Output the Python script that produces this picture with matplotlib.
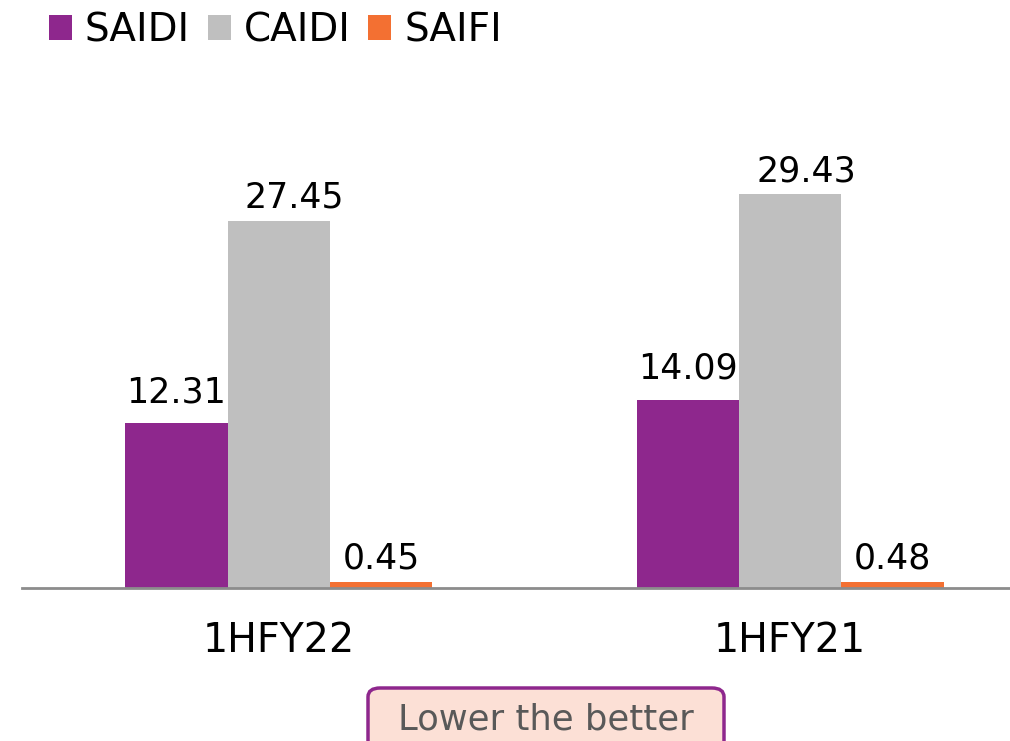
import matplotlib.pyplot as plt
from matplotlib.patches import FancyBboxPatch
import numpy as np

plt.rcParams['font.family'] = ['DejaVu Sans']

periods = ['1HFY22', '1HFY21']
series = ['SAIDI', 'CAIDI', 'SAIFI']
saidi = [12.31, 14.09]
caidi = [27.45, 29.43]
saifi = [0.45, 0.48]
colors = ['#8E278D', '#BFBFBF', '#F37032']
label_off = [(0, 15), (11.5, 9.4), (0, 9.4)]  # label offset from bar top, points

fig = plt.figure(figsize=(10.1, 7.41), dpi=100)
ax = fig.add_axes([22 / 1010, 1 - 588 / 741, 988 / 1010, 468 / 741])

x = np.arange(len(periods))
w = 0.2
for i, (name, vals) in enumerate(zip(series, [saidi, caidi, saifi])):
    bars = ax.bar(x + (i - 1) * w, vals, w, color=colors[i], label=name, zorder=2)
    for b, v in zip(bars, vals):
        ax.annotate(f'{v:.2f}', (b.get_x() + b.get_width() / 2, v),
                    xytext=label_off[i], textcoords='offset points',
                    ha='center', va='baseline', fontsize=25, color='black')

ax.set_xlim(-0.502, 1.43)
ax.set_ylim(0, 35)
for s in ['top', 'right', 'left']:
    ax.spines[s].set_visible(False)
ax.spines['bottom'].set_color('#8C8C8C')
ax.spines['bottom'].set_linewidth(2)
ax.set_yticks([])
ax.set_xticks(x)
ax.set_xticklabels(periods, fontsize=28.5)
ax.tick_params(axis='x', length=0, pad=24)

leg = fig.legend(loc='upper left', bbox_to_anchor=(49 / 1010, 1 - 11 / 741), ncol=3,
                 frameon=False, borderpad=0, borderaxespad=0,
                 fontsize=28, handlelength=0.59, handleheight=0.59, handletextpad=0.33,
                 columnspacing=0.46)

box = FancyBboxPatch((368 / 1010, -0.05), 356 / 1010, (741 - 688) / 741 + 0.05,
                     boxstyle='round,pad=0,rounding_size=0.012', transform=fig.transFigure,
                     facecolor='#FCE0D6', edgecolor='#8E278D', linewidth=2.5)
fig.patches.append(box)
fig.text(546 / 1010, 1 - 730 / 741, 'Lower the better', ha='center', va='baseline',
         fontsize=25.5, color='#595959')

fig.savefig('out.png', dpi=100)
